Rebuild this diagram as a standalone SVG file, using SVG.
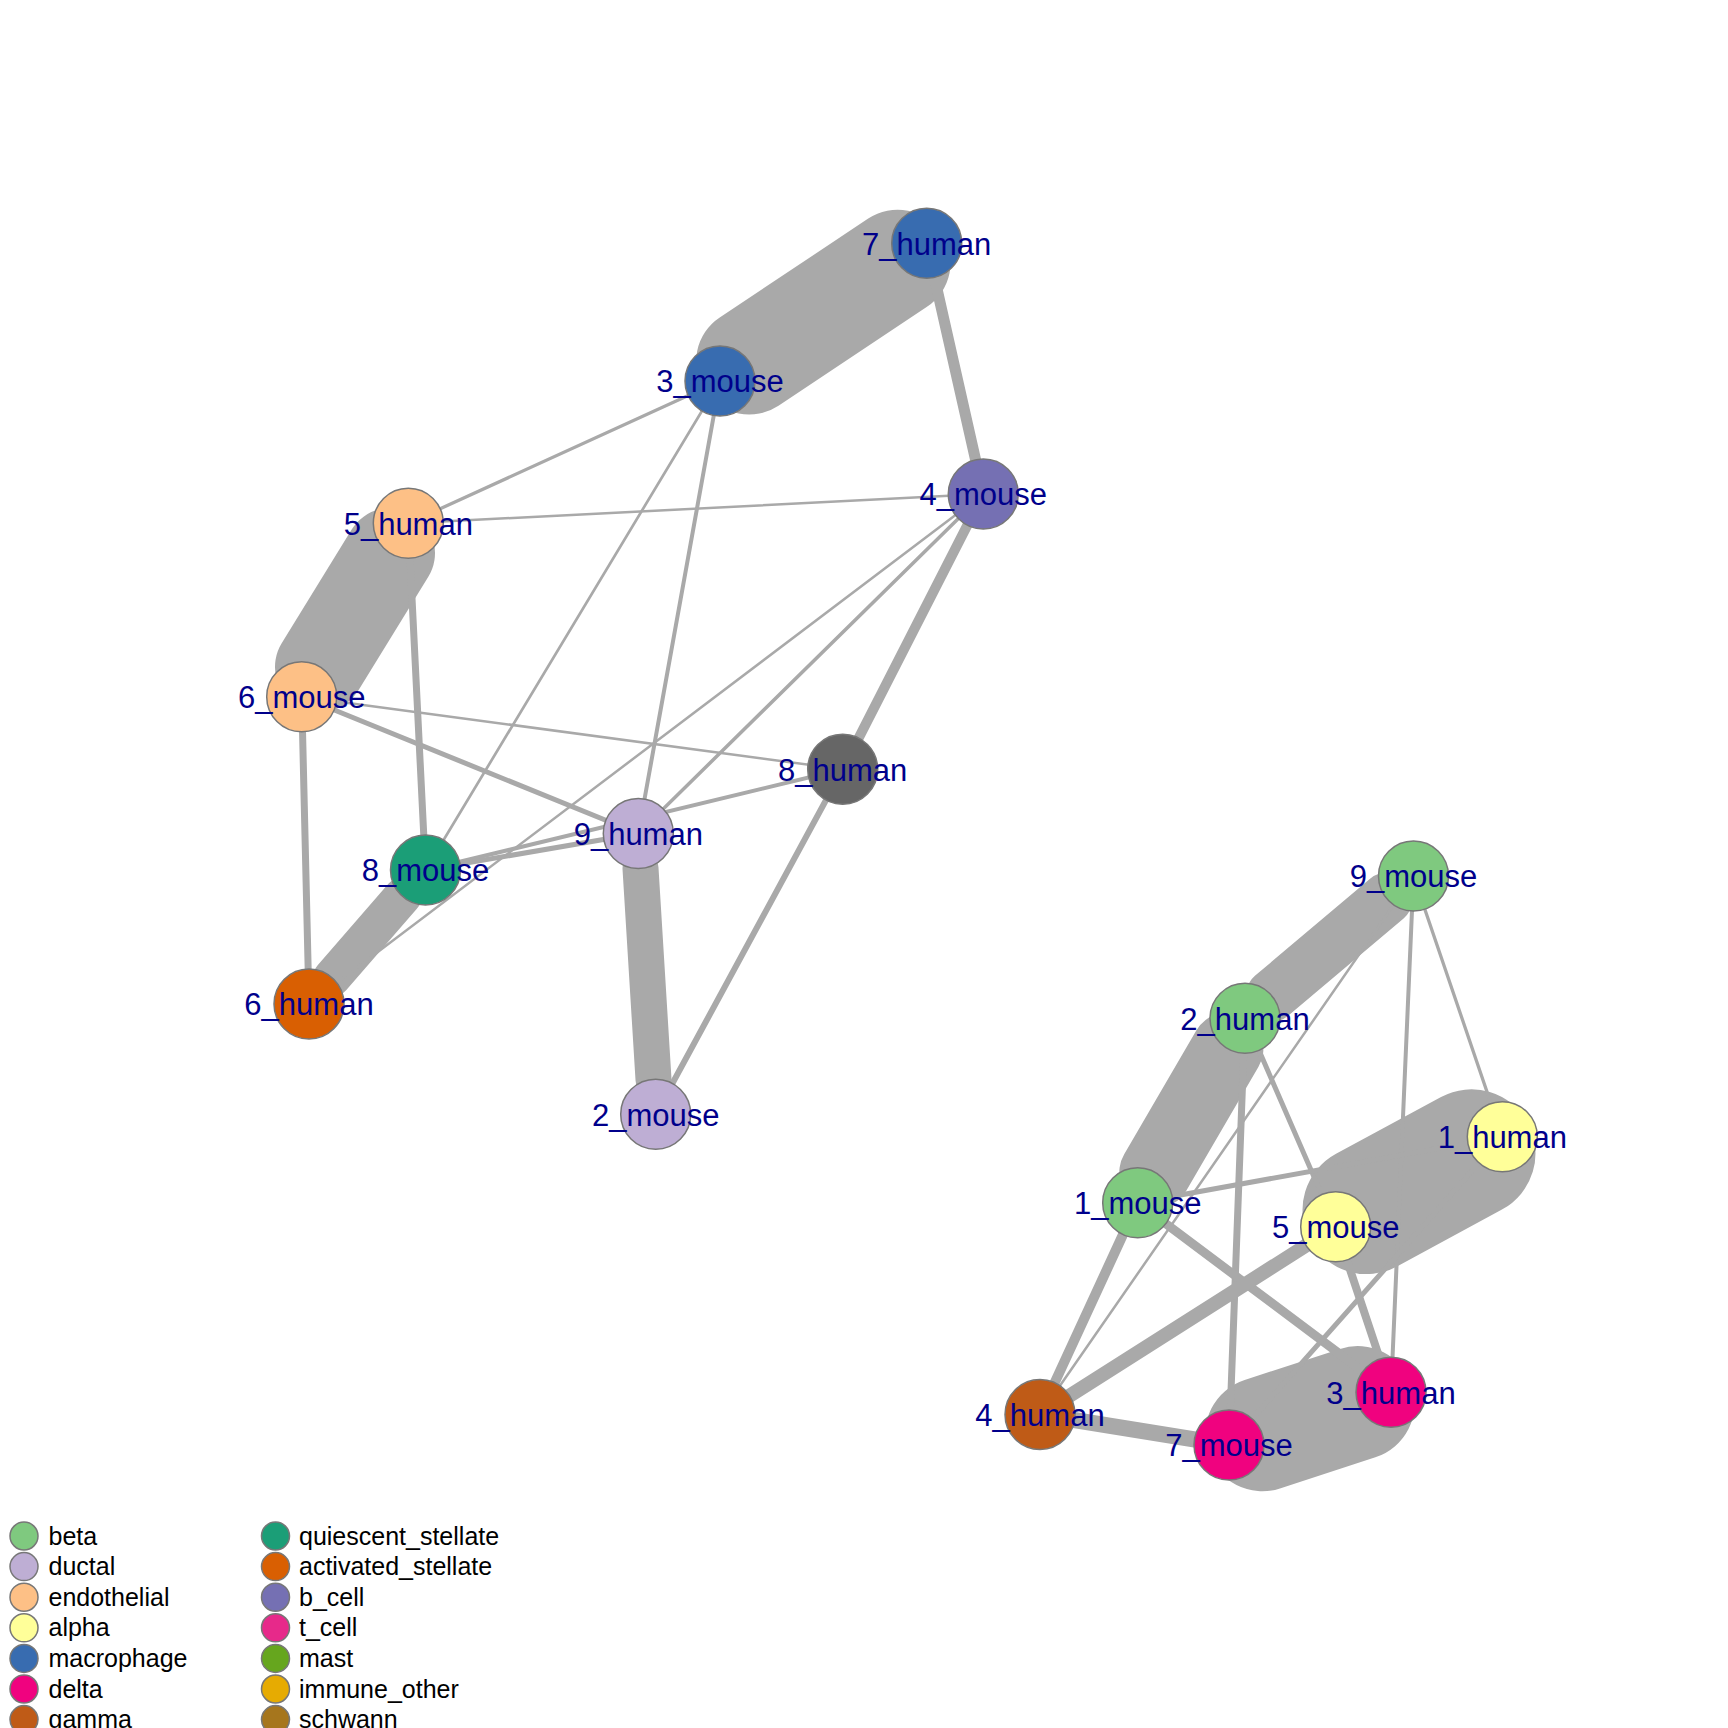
<svg xmlns="http://www.w3.org/2000/svg" width="1728" height="1728" viewBox="0 0 1728 1728">
<style>
.e{stroke:#A9A9A9;fill:none;stroke-linecap:round}
.n{stroke:#777777;stroke-width:1.5}
.l{font-family:"Liberation Sans",Arial,sans-serif;font-size:31px;fill:#00008B;text-anchor:middle}
.lg{font-family:"Liberation Sans",Arial,sans-serif;font-size:25px;fill:#000000}
</style>
<rect width="1728" height="1728" fill="#FFFFFF"/>
<g id="edges">
<line class="e" x1="749.1" y1="361.6" x2="897.6" y2="262.7" stroke-width="106"/>
<line class="e" x1="320" y1="666.9" x2="390" y2="553.1" stroke-width="90"/>
<line class="e" x1="640.5" y1="868.4" x2="653.5" y2="1079.4" stroke-width="36"/>
<line class="e" x1="402.5" y1="896.4" x2="332" y2="977.6" stroke-width="38"/>
<line class="e" x1="926.7" y1="243.3" x2="983.3" y2="494" stroke-width="11"/>
<line class="e" x1="720" y1="381" x2="408.3" y2="523.3" stroke-width="3.3"/>
<line class="e" x1="720" y1="381" x2="425.5" y2="870" stroke-width="2.7"/>
<line class="e" x1="720" y1="381" x2="638.3" y2="833.5" stroke-width="4"/>
<line class="e" x1="408.3" y1="523.3" x2="983.3" y2="494" stroke-width="2.5"/>
<line class="e" x1="408.3" y1="523.3" x2="425.5" y2="870" stroke-width="7"/>
<line class="e" x1="301.7" y1="696.7" x2="842.7" y2="769.3" stroke-width="2.5"/>
<line class="e" x1="301.7" y1="696.7" x2="638.3" y2="833.5" stroke-width="5"/>
<line class="e" x1="301.7" y1="696.7" x2="309" y2="1004" stroke-width="7"/>
<line class="e" x1="983.3" y1="494" x2="842.7" y2="769.3" stroke-width="10"/>
<line class="e" x1="983.3" y1="494" x2="638.3" y2="833.5" stroke-width="3.5"/>
<line class="e" x1="983.3" y1="494" x2="309" y2="1004" stroke-width="2.5"/>
<line class="e" x1="425.5" y1="870" x2="842.7" y2="769.3" stroke-width="4"/>
<line class="e" x1="425.5" y1="870" x2="638.3" y2="833.5" stroke-width="5"/>
<line class="e" x1="842.7" y1="769.3" x2="655.7" y2="1114.3" stroke-width="6"/>
<line class="e" x1="1271.7" y1="995.7" x2="1386.8" y2="898.6" stroke-width="52"/>
<line class="e" x1="1155.3" y1="1172.4" x2="1227.4" y2="1048.6" stroke-width="72"/>
<line class="e" x1="1366.5" y1="1210.1" x2="1471.5" y2="1153.3" stroke-width="128"/>
<line class="e" x1="1262.3" y1="1434.2" x2="1357.7" y2="1403.1" stroke-width="114"/>
<line class="e" x1="1413.5" y1="876" x2="1391" y2="1392.3" stroke-width="4"/>
<line class="e" x1="1413.5" y1="876" x2="1502.3" y2="1136.7" stroke-width="3.3"/>
<line class="e" x1="1413.5" y1="876" x2="1040" y2="1414.5" stroke-width="2.5"/>
<line class="e" x1="1245" y1="1018.3" x2="1335.7" y2="1226.7" stroke-width="5"/>
<line class="e" x1="1245" y1="1018.3" x2="1229" y2="1445" stroke-width="7"/>
<line class="e" x1="1137.7" y1="1202.7" x2="1502.3" y2="1136.7" stroke-width="5"/>
<line class="e" x1="1137.7" y1="1202.7" x2="1391" y2="1392.3" stroke-width="9"/>
<line class="e" x1="1137.7" y1="1202.7" x2="1040" y2="1414.5" stroke-width="10"/>
<line class="e" x1="1335.7" y1="1226.7" x2="1040" y2="1414.5" stroke-width="14"/>
<line class="e" x1="1335.7" y1="1226.7" x2="1391" y2="1392.3" stroke-width="8"/>
<line class="e" x1="1040" y1="1414.5" x2="1229" y2="1445" stroke-width="16"/>
<line class="e" x1="1502.3" y1="1136.7" x2="1229" y2="1445" stroke-width="5"/>
</g>
<g id="n-7_human"><circle class="n" cx="926.7" cy="243.3" r="35" fill="#386CB0"/><text class="l" x="926.7" y="254.5">7_human</text></g>
<g id="n-3_mouse"><circle class="n" cx="720" cy="381" r="35" fill="#386CB0"/><text class="l" x="720" y="392.2">3_mouse</text></g>
<g id="n-4_mouse"><circle class="n" cx="983.3" cy="494" r="35" fill="#7570B3"/><text class="l" x="983.3" y="505.2">4_mouse</text></g>
<g id="n-5_human"><circle class="n" cx="408.3" cy="523.3" r="35" fill="#FDC086"/><text class="l" x="408.3" y="534.5">5_human</text></g>
<g id="n-6_mouse"><circle class="n" cx="301.7" cy="696.7" r="35" fill="#FDC086"/><text class="l" x="301.7" y="707.9">6_mouse</text></g>
<g id="n-8_human"><circle class="n" cx="842.7" cy="769.3" r="35" fill="#666666"/><text class="l" x="842.7" y="780.5">8_human</text></g>
<g id="n-9_human"><circle class="n" cx="638.3" cy="833.5" r="35" fill="#BEAED4"/><text class="l" x="638.3" y="844.7">9_human</text></g>
<g id="n-8_mouse"><circle class="n" cx="425.5" cy="870" r="35" fill="#1B9E77"/><text class="l" x="425.5" y="881.2">8_mouse</text></g>
<g id="n-6_human"><circle class="n" cx="309" cy="1004" r="35" fill="#D95F02"/><text class="l" x="309" y="1015.2">6_human</text></g>
<g id="n-2_mouse"><circle class="n" cx="655.7" cy="1114.3" r="35" fill="#BEAED4"/><text class="l" x="655.7" y="1125.5">2_mouse</text></g>
<g id="n-9_mouse"><circle class="n" cx="1413.5" cy="876" r="35" fill="#7FC97F"/><text class="l" x="1413.5" y="887.2">9_mouse</text></g>
<g id="n-2_human"><circle class="n" cx="1245" cy="1018.3" r="35" fill="#7FC97F"/><text class="l" x="1245" y="1029.5">2_human</text></g>
<g id="n-1_human"><circle class="n" cx="1502.3" cy="1136.7" r="35" fill="#FFFF99"/><text class="l" x="1502.3" y="1147.9">1_human</text></g>
<g id="n-1_mouse"><circle class="n" cx="1137.7" cy="1202.7" r="35" fill="#7FC97F"/><text class="l" x="1137.7" y="1213.9">1_mouse</text></g>
<g id="n-5_mouse"><circle class="n" cx="1335.7" cy="1226.7" r="35" fill="#FFFF99"/><text class="l" x="1335.7" y="1237.9">5_mouse</text></g>
<g id="n-4_human"><circle class="n" cx="1040" cy="1414.5" r="35" fill="#BF5B17"/><text class="l" x="1040" y="1425.7">4_human</text></g>
<g id="n-7_mouse"><circle class="n" cx="1229" cy="1445" r="35" fill="#F0027F"/><text class="l" x="1229" y="1456.2">7_mouse</text></g>
<g id="n-3_human"><circle class="n" cx="1391" cy="1392.3" r="35" fill="#F0027F"/><text class="l" x="1391" y="1403.5">3_human</text></g>
<g id="legend">
<circle class="n" cx="24" cy="1536" r="14" fill="#7FC97F"/><text class="lg" x="48.5" y="1544.5">beta</text>
<circle class="n" cx="24" cy="1566.6" r="14" fill="#BEAED4"/><text class="lg" x="48.5" y="1575.1">ductal</text>
<circle class="n" cx="24" cy="1597.2" r="14" fill="#FDC086"/><text class="lg" x="48.5" y="1605.7">endothelial</text>
<circle class="n" cx="24" cy="1627.8" r="14" fill="#FFFF99"/><text class="lg" x="48.5" y="1636.3">alpha</text>
<circle class="n" cx="24" cy="1658.4" r="14" fill="#386CB0"/><text class="lg" x="48.5" y="1666.9">macrophage</text>
<circle class="n" cx="24" cy="1689" r="14" fill="#F0027F"/><text class="lg" x="48.5" y="1697.5">delta</text>
<circle class="n" cx="24" cy="1719.6" r="14" fill="#BF5B17"/><text class="lg" x="48.5" y="1728.1">gamma</text>
<circle class="n" cx="275.5" cy="1536" r="14" fill="#1B9E77"/><text class="lg" x="299" y="1544.5">quiescent_stellate</text>
<circle class="n" cx="275.5" cy="1566.6" r="14" fill="#D95F02"/><text class="lg" x="299" y="1575.1">activated_stellate</text>
<circle class="n" cx="275.5" cy="1597.2" r="14" fill="#7570B3"/><text class="lg" x="299" y="1605.7">b_cell</text>
<circle class="n" cx="275.5" cy="1627.8" r="14" fill="#E7298A"/><text class="lg" x="299" y="1636.3">t_cell</text>
<circle class="n" cx="275.5" cy="1658.4" r="14" fill="#66A61E"/><text class="lg" x="299" y="1666.9">mast</text>
<circle class="n" cx="275.5" cy="1689" r="14" fill="#E6AB02"/><text class="lg" x="299" y="1697.5">immune_other</text>
<circle class="n" cx="275.5" cy="1719.6" r="14" fill="#A6761D"/><text class="lg" x="299" y="1728.1">schwann</text>
</g>
</svg>
